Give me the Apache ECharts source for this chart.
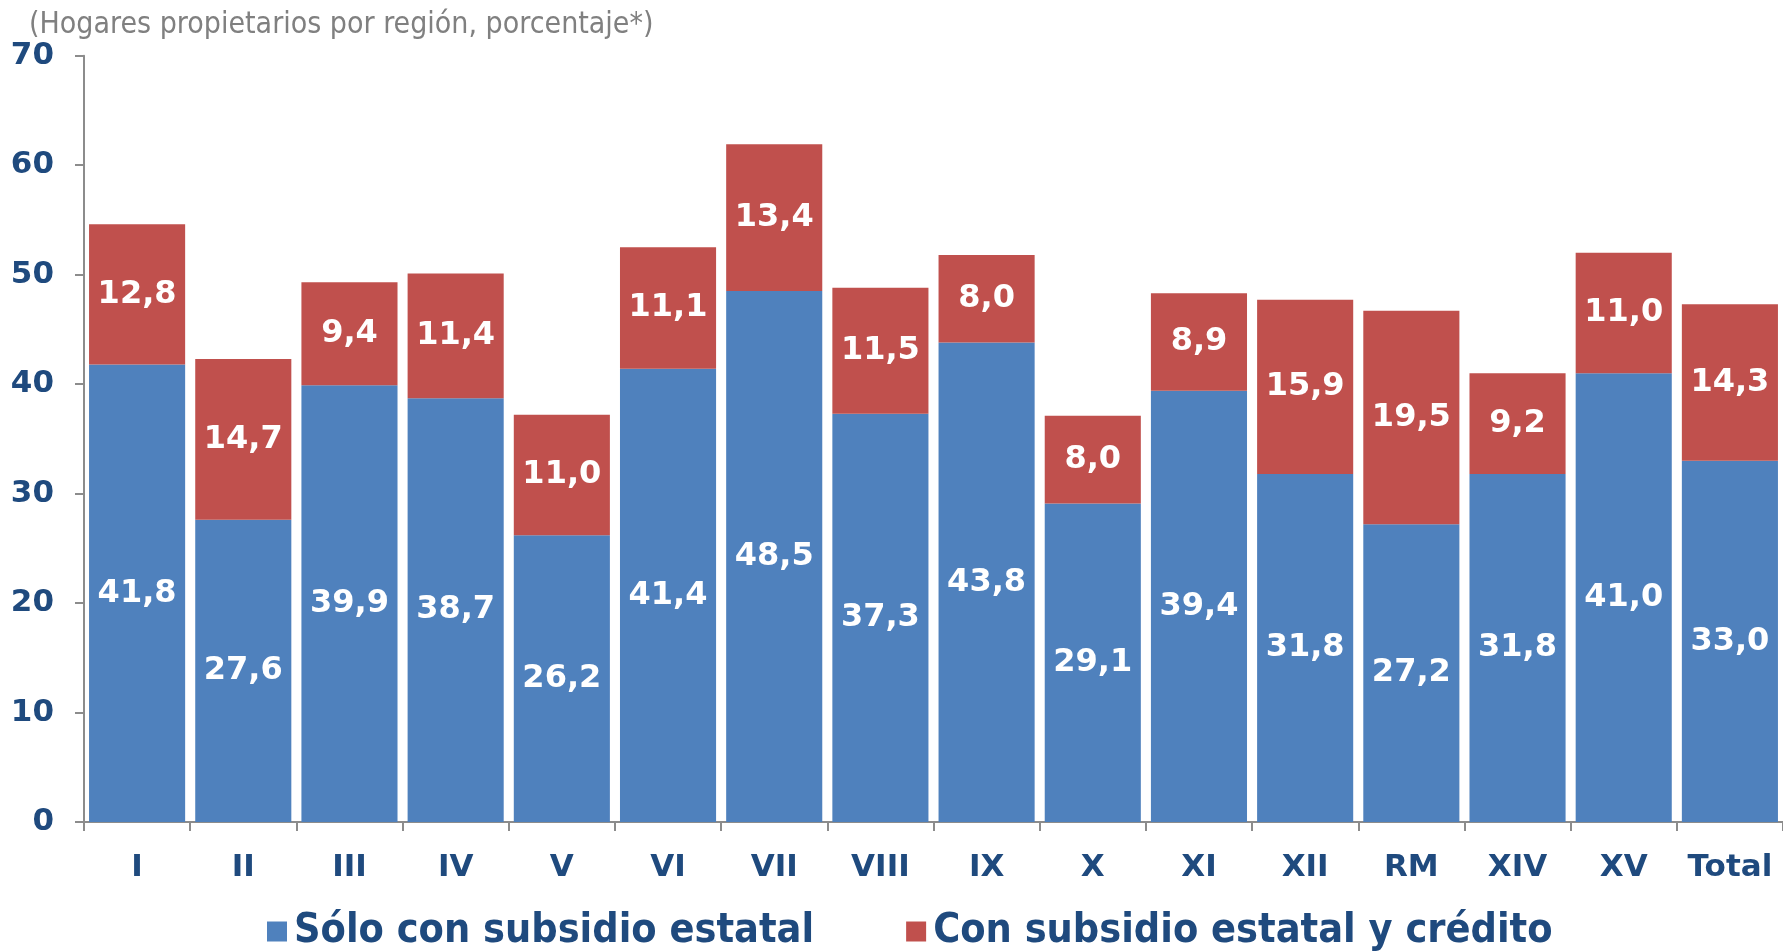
<!DOCTYPE html>
<html>
<head>
<meta charset="utf-8">
<script src="https://cdn.jsdelivr.net/npm/echarts@6/dist/echarts.min.js"></script>
<style>
  html, body { margin: 0; padding: 0; background: #fff; }
  #chart { width: 1783px; height: 951px; }
</style>
</head>
<body>
<div id="chart"></div>
<script>
// Regions of Chile plus the national total
const regions = ['I', 'II', 'III', 'IV', 'V', 'VI', 'VII', 'VIII', 'IX', 'X', 'XI', 'XII', 'RM', 'XIV', 'XV', 'Total'];
// Owner households that received only a state subsidy (%)
const soloSubsidio = [41.8, 27.6, 39.9, 38.7, 26.2, 41.4, 48.5, 37.3, 43.8, 29.1, 39.4, 31.8, 27.2, 31.8, 41.0, 33.0];
// Owner households with a state subsidy plus a mortgage (%)
const subsidioCredito = [12.8, 14.7, 9.4, 11.4, 11.0, 11.1, 13.4, 11.5, 8.0, 8.0, 8.9, 15.9, 19.5, 9.2, 11.0, 14.3];
const yTicks = [0, 10, 20, 30, 40, 50, 60, 70];

const navy = '#1F4A7E';
const axisGray = '#8C8C8C';
const fmt = v => v.toFixed(1).replace('.', ',');

const chart = echarts.init(document.getElementById('chart'), null, { renderer: 'canvas' });

const segLabel = {
  show: true,
  position: 'inside',
  color: '#fff',
  fontFamily: 'DejaVu Sans',
  fontWeight: 'bold',
  fontSize: 32,
  formatter: p => fmt(p.value)
};

chart.setOption({
  animation: false,
  title: {
    text: '(Hogares propietarios por región, porcentaje*)',
    left: 24,
    top: 5,
    textStyle: {
      fontFamily: 'DejaVu Sans Condensed',
      fontWeight: 'normal',
      fontSize: 30,
      color: '#808080'
    }
  },
  legend: {
    left: 262,
    top: 906,
    icon: 'rect',
    itemWidth: 20,
    itemHeight: 20,
    itemGap: 92,
    textStyle: {
      fontFamily: 'DejaVu Sans Condensed',
      fontWeight: 'bold',
      fontSize: 41,
      color: navy,
      padding: [0, 0, 0, 2]
    },
    data: ['Sólo con subsidio estatal', 'Con subsidio estatal y crédito']
  },
  grid: {
    left: 84,
    top: 55.7,
    width: 1704,
    height: 766.3,
    containLabel: false
  },
  xAxis: {
    type: 'category',
    data: regions,
    axisLine: { show: true, lineStyle: { color: axisGray, width: 2 } },
    axisTick: { show: true, length: 9, alignWithLabel: false, lineStyle: { color: axisGray, width: 2 } },
    axisLabel: {
      margin: 30,
      fontFamily: 'DejaVu Sans',
      fontWeight: 'bold',
      fontSize: 31,
      color: navy,
      interval: 0
    }
  },
  yAxis: {
    type: 'value',
    min: yTicks[0],
    max: yTicks[yTicks.length - 1],
    interval: 10,
    splitLine: { show: false },
    axisLine: { show: true, lineStyle: { color: axisGray, width: 2 } },
    axisTick: { show: true, length: 9, lineStyle: { color: axisGray, width: 2 } },
    axisLabel: {
      margin: 30,
      fontFamily: 'DejaVu Sans',
      fontWeight: 'bold',
      fontSize: 31,
      color: navy
    }
  },
  series: [
    {
      name: 'Sólo con subsidio estatal',
      type: 'bar',
      stack: 'hogares',
      barCategoryGap: '9.5%',
      data: soloSubsidio,
      itemStyle: { color: '#4F81BD' },
      label: segLabel
    },
    {
      name: 'Con subsidio estatal y crédito',
      type: 'bar',
      stack: 'hogares',
      barCategoryGap: '9.5%',
      data: subsidioCredito,
      itemStyle: { color: '#C0504D' },
      label: segLabel
    }
  ]
});
</script>
</body>
</html>
